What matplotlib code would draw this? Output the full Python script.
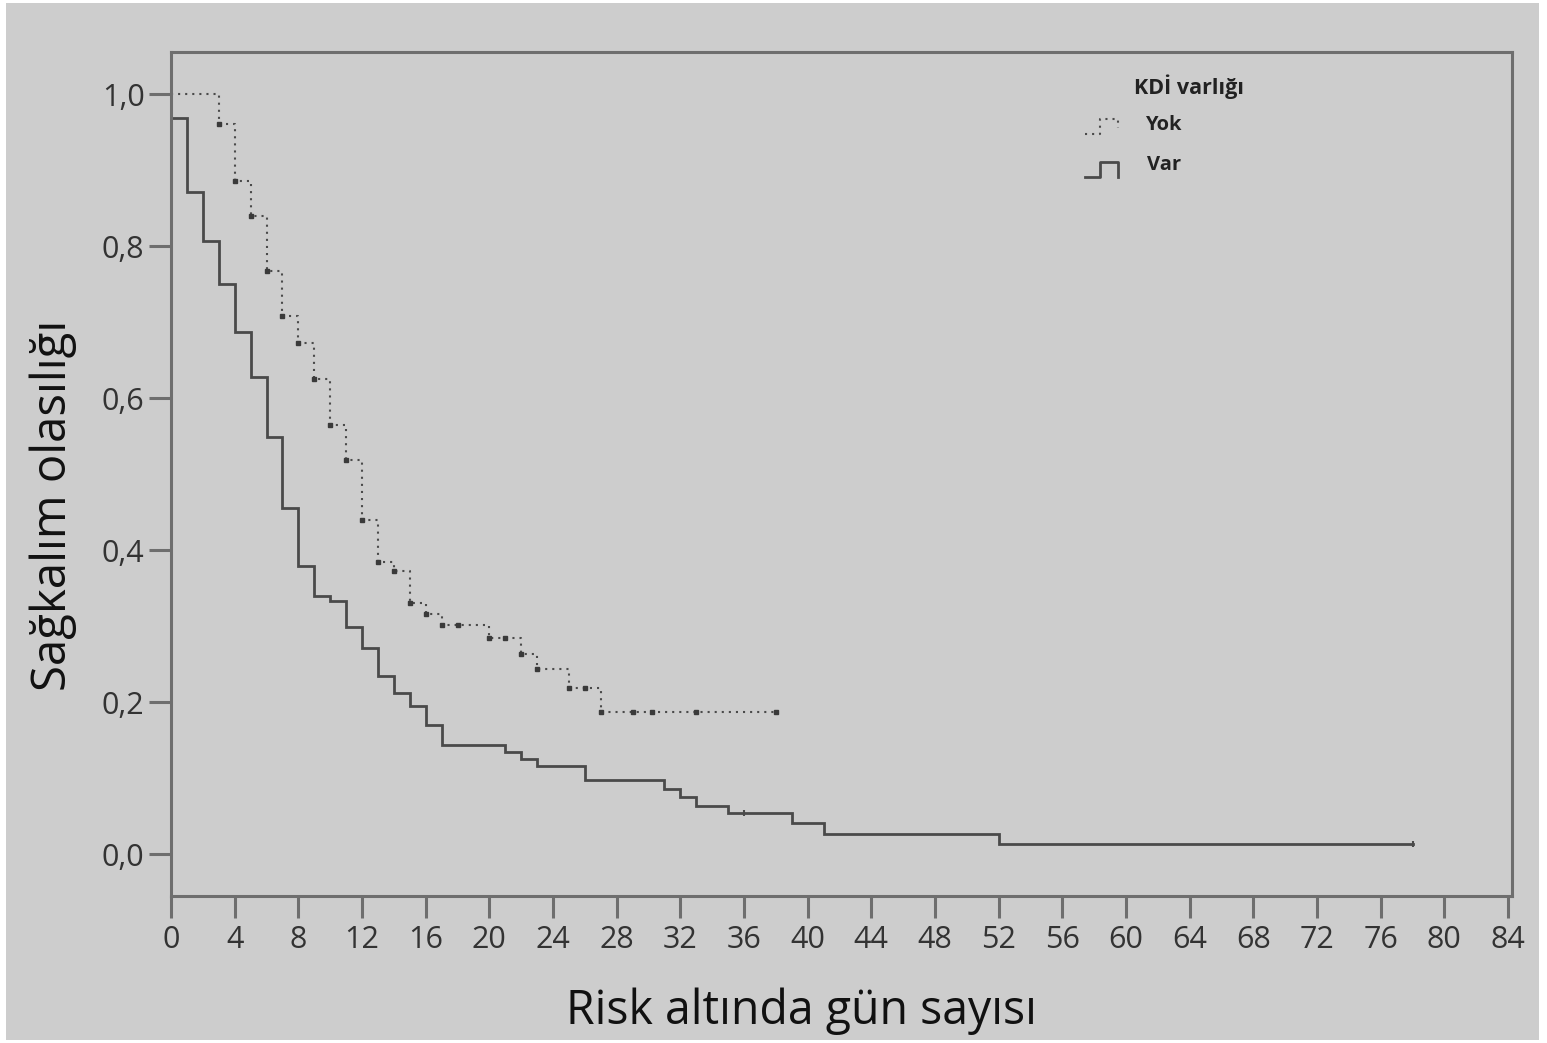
import matplotlib
matplotlib.use("Agg")
from matplotlib import pyplot as plt
from matplotlib.lines import Line2D
from matplotlib.patches import Rectangle

# Kaplan-Meier steps
yok_times = [0, 3, 4, 5, 6, 7, 8, 9, 10, 11, 12, 13, 14, 15, 16, 17, 20, 22, 23, 25, 27, 38]
yok_surv = [1.0, 0.960, 0.886, 0.840, 0.767, 0.708, 0.672, 0.625, 0.564, 0.518, 0.439,
            0.385, 0.373, 0.331, 0.316, 0.302, 0.285, 0.264, 0.243, 0.218, 0.187, 0.187]
yok_censor_t = [18, 21, 26, 29, 30.2, 33, 38]

var_times = [0, 1, 2, 3, 4, 5, 6, 7, 8, 9, 10, 11, 12, 13, 14, 15, 16, 17, 21, 22, 23,
             26, 31, 32, 33, 35, 39, 41, 52, 78]
var_surv = [0.968, 0.871, 0.807, 0.750, 0.687, 0.628, 0.549, 0.456, 0.379, 0.340, 0.333,
            0.299, 0.271, 0.234, 0.212, 0.195, 0.170, 0.144, 0.134, 0.125, 0.116, 0.097,
            0.086, 0.075, 0.064, 0.054, 0.041, 0.027, 0.0135, 0.0135]
var_censor_t = [36, 78]

x_ticks = list(range(0, 85, 4))
y_ticks = [0.0, 0.2, 0.4, 0.6, 0.8, 1.0]
y_ticklabels = ["0,0", "0,2", "0,4", "0,6", "0,8", "1,0"]

BG = '#cdcdcd'
FRAME = '#6e6e6e'
LINE = '#4a4a4a'
FONT = 'Open Sans'


def surv_at(times, surv, t):
    val = surv[0]
    for ti, si in zip(times, surv):
        if ti <= t:
            val = si
    return val


fig = plt.figure(figsize=(15.47, 10.43), dpi=100, facecolor='white')
fig.patches.append(Rectangle((6 / 1547, 3 / 1043), 1533 / 1547, 1037 / 1043,
                             transform=fig.transFigure, facecolor=BG,
                             edgecolor='none', zorder=-10))
ax = fig.add_axes([171 / 1547, 1 - 896 / 1043, 1341 / 1547, 844.5 / 1043])
ax.set_facecolor(BG)

ax.step(var_times, var_surv, where='post', color=LINE, lw=2.0, solid_joinstyle='miter')
ax.step(yok_times, yok_surv, where='post', color=LINE, lw=1.5,
        linestyle=(0, (1, 2.4)))
ax.plot(yok_times[1:-1], yok_surv[1:-1], linestyle='none', marker='s', ms=2.8,
        color='#3a3a3a')

ax.plot(var_censor_t, [surv_at(var_times, var_surv, t) for t in var_censor_t],
        linestyle='none', marker='|', ms=5, mew=1.5, color=LINE)
ax.plot(yok_censor_t, [surv_at(yok_times, yok_surv, t) for t in yok_censor_t],
        linestyle='none', marker='s', ms=2.5, color='#3a3a3a')

ax.set_xlim(0, 84.25)
ax.set_ylim(-0.055, 1.056)
ax.set_xticks(x_ticks)
ax.set_yticks(y_ticks)
ax.set_yticklabels(y_ticklabels)

for sp in ax.spines.values():
    sp.set_color(FRAME)
    sp.set_linewidth(2.2)
ax.tick_params(axis='both', length=16, width=2.2, color=FRAME, labelcolor='#333333',
               labelsize=22, pad=3)
ax.tick_params(axis='x', pad=5)
for lab in ax.get_xticklabels() + ax.get_yticklabels():
    lab.set_family(FONT)

ax.set_xlabel("Risk altında gün sayısı", fontsize=33.5, family=FONT, color='#111111',
              va='center', ha='center')
ax.xaxis.set_label_coords(0.470, -0.137)
ax.set_ylabel("Sağkalım olasılığı", fontsize=34, family=FONT, color='#111111',
              va='center', ha='center')
ax.yaxis.set_label_coords(-0.088, 0.463)

# legend drawn by hand to mimic the step-shaped glyphs
ax.text(0.759, 0.958, "KDİ varlığı", transform=ax.transAxes, ha='center', va='center',
        fontsize=15.5, fontweight='bold', family=FONT, color='#222222')
ax.text(0.726, 0.913, "Yok", transform=ax.transAxes, ha='left', va='center',
        fontsize=14.5, fontweight='bold', family=FONT, color='#222222')
ax.text(0.728, 0.866, "Var", transform=ax.transAxes, ha='left', va='center',
        fontsize=14.5, fontweight='bold', family=FONT, color='#222222')
gx = [0.6816, 0.6928, 0.6928, 0.7062, 0.7062]
ax.add_line(Line2D(gx, [0.9023, 0.9023, 0.9201, 0.9201, 0.909], transform=ax.transAxes,
                   color=LINE, lw=1.5, linestyle=(0, (1, 2.4))))
ax.add_line(Line2D(gx, [0.8514, 0.8514, 0.8692, 0.8692, 0.8514], transform=ax.transAxes,
                   color=LINE, lw=2.0))

fig.savefig("out.png", dpi=100, facecolor='white')
